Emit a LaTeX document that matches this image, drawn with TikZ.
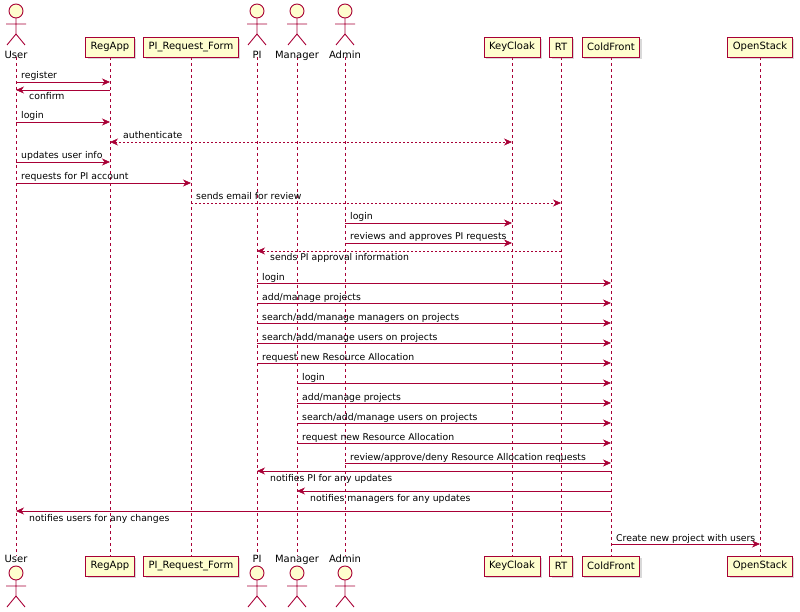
\documentclass[tikz,border=0pt]{standalone}
\usepackage{fontspec}
\setmainfont{DejaVu Sans}
\usetikzlibrary{arrows.meta,shadows}
\definecolor{pred}{HTML}{A80036}
\definecolor{pfill}{HTML}{FEFECE}
\tikzset{
  part/.style={draw=pred,fill=pfill,line width=0.8pt,minimum height=20pt,inner sep=5pt,font=\fontsize{10}{12}\selectfont,text=black,
    drop shadow={opacity=0.3,shadow xshift=2pt,shadow yshift=-2pt}},
  life/.style={draw=pred,dashed,dash pattern=on 3pt off 3pt,line width=0.5pt},
  msgline/.style={draw=pred,line width=0.7pt,-{Stealth[length=8pt,width=7pt,inset=2.5pt]}},
  retline/.style={msgline,dash pattern=on 2pt off 2pt},
  lbl/.style={font=\fontsize{9.3}{11}\selectfont,inner sep=0pt,text=black},
  actorname/.style={font=\fontsize{10}{12}\selectfont,inner sep=0pt}
}
\newcommand{\actorfig}[2]{% x, top y
  \draw[pred,fill=pfill,line width=0.9pt] (#1,#2+7) circle (7);
  \draw[pred,line width=0.9pt] (#1,#2+14) -- (#1,#2+30) (#1-10,#2+20) -- (#1+10,#2+20)
    (#1-9,#2+41) -- (#1,#2+30) -- (#1+9,#2+41);
}
\newcommand{\fwd}[4]{% from, to, y, label
  \draw[msgline] (#1 |- 0,#3) -- (#2 |- 0,#3);
  \node[lbl,anchor=base west] at ([xshift=5pt]#1 |- 0,#3-3) {#4};
}
\newcommand{\bwd}[4]{% from, to, y, label (arrow leftwards, label below)
  \draw[msgline] (#1 |- 0,#3) -- (#2 |- 0,#3);
  \node[lbl,anchor=base west] at ([xshift=13pt]#2 |- 0,#3+10) {#4};
}
\begin{document}
\begin{tikzpicture}[x=1pt,y=-1pt]
\useasboundingbox (0,0) rectangle (800,612);
% lifeline anchors
\foreach \n/\x in {User/16,RegApp/110,PIRF/191,PI/257,Manager/297,Admin/345,KeyCloak/512,RT/561,ColdFront/611,OpenStack/760}{
  \coordinate (\n) at (\x,57);
  \coordinate (\n B) at (\x,556);
  \draw[life] (\n) -- (\n B);
}
% boxes
\foreach \n/\x/\t in {RegApp/110/RegApp,PIRF/191/PI\_Request\_Form,KeyCloak/512/KeyCloak,RT/561/RT,ColdFront/611/ColdFront,OpenStack/760/OpenStack}{
  \node[part] (\n T) at (\x,47) {\t};
  \node[part] (\n Bx) at (\x,566) {\t};
}
% actors
\foreach \n/\x/\t in {User/16/User,PI/257/PI,Manager/297/Manager,Admin/345/Admin}{
  \actorfig{\x}{4}
  \node[actorname,anchor=base] (\n T) at (\x,59) {\t};
  \node[actorname,anchor=base] (\n Bx) at (\x,562) {\t};
  \actorfig{\x}{566}
}
% messages
\fwd{User}{RegApp}{82}{register}
\bwd{RegApp}{User}{90}{confirm}
\fwd{User}{RegApp}{122}{login}
\draw[retline,{Stealth[length=8pt,width=7pt,inset=2.5pt]}-{Stealth[length=8pt,width=7pt,inset=2.5pt]}] (RegApp |- 0,142) -- (KeyCloak |- 0,142);
\node[lbl,anchor=base west] at ([xshift=13pt]RegApp |- 0,139) {authenticate};
\fwd{User}{RegApp}{162}{updates user info}
\fwd{User}{PIRF}{183}{requests for PI account}
\draw[retline] (PIRF |- 0,203) -- (RT |- 0,203);
\node[lbl,anchor=base west] at ([xshift=5pt]PIRF |- 0,200) {sends email for review};
\fwd{Admin}{KeyCloak}{223}{login}
\fwd{Admin}{KeyCloak}{243}{reviews and approves PI requests}
\draw[retline] (RT |- 0,251) -- (PI |- 0,251);
\node[lbl,anchor=base west] at ([xshift=13pt]PI |- 0,261) {sends PI approval information};
\fwd{PI}{ColdFront}{283}{login}
\fwd{PI}{ColdFront}{303}{add/manage projects}
\fwd{PI}{ColdFront}{323}{search/add/manage managers on projects}
\fwd{PI}{ColdFront}{343}{search/add/manage users on projects}
\fwd{PI}{ColdFront}{363}{request new Resource Allocation}
\fwd{Manager}{ColdFront}{383}{login}
\fwd{Manager}{ColdFront}{403}{add/manage projects}
\fwd{Manager}{ColdFront}{423}{search/add/manage users on projects}
\fwd{Manager}{ColdFront}{443}{request new Resource Allocation}
\fwd{Admin}{ColdFront}{463}{review/approve/deny Resource Allocation requests}
\bwd{ColdFront}{PI}{471}{notifies PI for any updates}
\bwd{ColdFront}{Manager}{491}{notifies managers for any updates}
\bwd{ColdFront}{User}{511}{notifies users for any changes}
\fwd{ColdFront}{OpenStack}{544}{Create new project with users}
\end{tikzpicture}
\end{document}
